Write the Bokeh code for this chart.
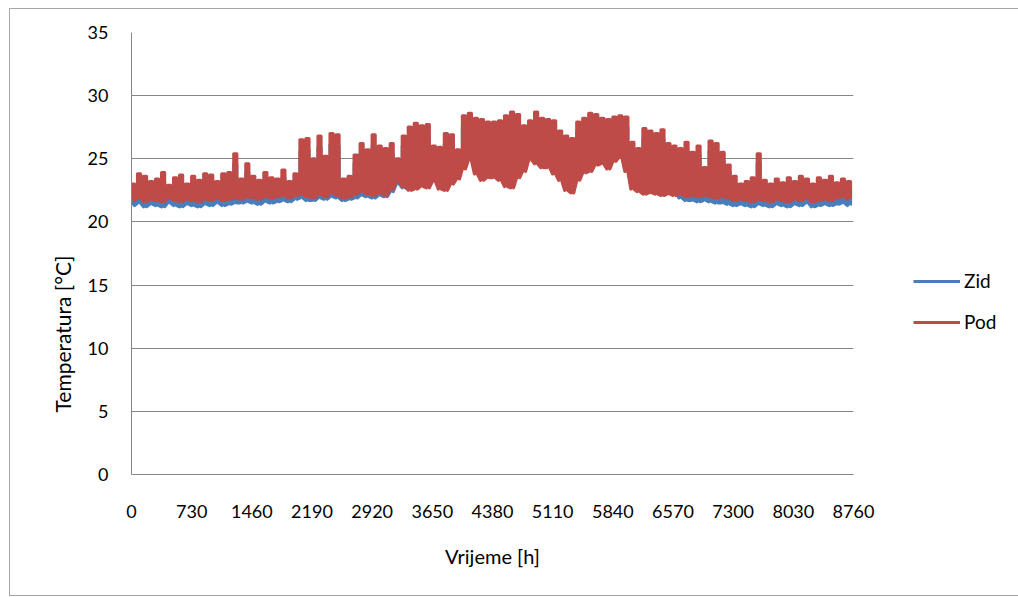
from bokeh.plotting import figure
from bokeh.models import FixedTicker, Legend, LegendItem, Range1d, Title
from bokeh.embed import file_html
from bokeh.resources import INLINE

# ---- data (envelope of hourly values, one low/high pair per 73 h) ----
hours = list(range(0, 8760, 73))

pod_low = [
    21.7, 21.9, 21.6, 21.8, 21.7, 21.6, 21.9, 21.7, 21.6, 21.8,
    21.7, 21.6, 21.8, 21.7, 21.9, 21.7, 21.8, 21.9, 21.8, 22.0,
    21.9, 21.8, 22.0, 21.9, 22.0, 22.1, 21.9, 22.1, 22.2, 22.0,
    21.9, 22.2, 22.0, 22.3, 22.1, 21.9, 22.0, 22.2, 22.4, 22.2,
    22.1, 22.3, 22.1, 22.6, 23.2, 22.8, 22.5, 22.6, 22.8, 22.7,
    23.2, 22.6, 22.5, 23.0, 23.4, 24.2, 24.9, 23.8, 23.3, 23.5,
    23.5, 23.3, 22.8, 22.7, 23.5, 24.0, 24.9, 24.6, 24.3, 24.3,
    23.8, 23.3, 22.5, 22.3, 23.3, 23.9, 24.0, 24.5, 24.6, 24.2,
    24.8, 25.1, 24.0, 22.6, 22.4, 22.2, 22.3, 22.2, 22.1, 22.2,
    22.1, 22.2, 22.0, 22.1, 22.0, 22.1, 22.0, 21.9, 22.0, 21.9,
    21.7, 21.8, 21.7, 21.6, 21.8, 21.7, 21.6, 21.8, 21.7, 21.6,
    21.8, 21.7, 21.9, 21.6, 21.7, 21.8, 21.7, 21.9, 22.0, 21.8,
]
pod_high = [
    23.0, 23.8, 23.6, 23.2, 23.4, 23.9, 22.9, 23.5, 23.7, 23.0,
    23.6, 23.3, 23.8, 23.7, 23.2, 23.8, 23.9, 25.4, 23.4, 24.6,
    23.6, 23.3, 23.9, 23.5, 23.4, 24.1, 23.2, 23.8, 26.5, 26.6,
    25.0, 26.8, 25.2, 27.0, 26.9, 23.4, 23.6, 25.3, 26.2, 25.7,
    26.9, 26.0, 25.8, 26.2, 25.0, 26.8, 27.5, 27.8, 27.6, 27.7,
    26.0, 25.9, 27.0, 26.9, 25.7, 28.4, 28.6, 28.2, 28.1, 27.9,
    27.9, 28.0, 28.4, 28.7, 28.5, 27.6, 28.0, 28.7, 28.2, 28.1,
    28.0, 27.2, 26.8, 26.6, 27.9, 28.2, 28.6, 28.5, 28.2, 28.1,
    28.3, 28.4, 28.3, 26.3, 25.8, 27.4, 27.2, 27.0, 27.3, 26.2,
    26.0, 25.8, 26.3, 25.5, 26.0, 24.3, 26.4, 26.2, 25.5, 24.5,
    23.6, 23.0, 23.2, 23.5, 25.4, 23.3, 23.0, 23.4, 23.1, 23.5,
    23.2, 23.6, 23.4, 23.0, 23.5, 23.3, 23.6, 23.1, 23.4, 23.2,
]
zid_low = [
    21.3, 21.5, 21.2, 21.4, 21.3, 21.2, 21.5, 21.3, 21.2, 21.4,
    21.3, 21.2, 21.4, 21.3, 21.5, 21.3, 21.4, 21.5, 21.5, 21.6,
    21.5, 21.4, 21.6, 21.5, 21.6, 21.7, 21.6, 21.8, 21.9, 21.7,
    21.7, 21.9, 21.8, 22.0, 21.9, 21.7, 21.8, 21.9, 22.1, 22.0,
    21.9, 22.1, 22.0, 22.4, 23.0, 22.7, 22.7, 22.8, 23.0, 22.9,
    23.4, 22.8, 22.7, 23.2, 23.6, 24.4, 25.1, 24.0, 23.5, 23.7,
    23.7, 23.5, 23.0, 22.9, 23.7, 24.2, 25.1, 24.8, 24.5, 24.5,
    24.0, 23.5, 22.7, 22.5, 23.5, 24.1, 24.2, 24.7, 24.8, 24.4,
    25.0, 25.3, 24.2, 22.8, 22.6, 22.4, 22.5, 22.4, 22.3, 22.4,
    22.3, 21.9, 21.7, 21.7, 21.6, 21.7, 21.6, 21.5, 21.5, 21.4,
    21.3, 21.4, 21.3, 21.2, 21.4, 21.3, 21.2, 21.4, 21.3, 21.2,
    21.4, 21.3, 21.5, 21.2, 21.3, 21.4, 21.3, 21.4, 21.5, 21.3,
]
zid_high = [
    22.6, 23.2, 23.0, 22.8, 22.9, 23.3, 22.5, 23.0, 23.1, 22.6,
    23.1, 22.9, 23.2, 23.1, 22.8, 23.2, 23.3, 24.6, 23.0, 23.9,
    23.1, 22.9, 23.3, 23.0, 23.0, 23.5, 22.8, 23.3, 25.6, 25.7,
    24.3, 25.9, 24.5, 26.1, 26.0, 23.0, 23.1, 24.6, 25.4, 25.0,
    26.0, 25.3, 25.1, 25.4, 24.4, 26.0, 26.6, 26.9, 26.7, 26.8,
    25.3, 25.2, 26.2, 26.1, 25.1, 27.5, 27.7, 27.4, 27.3, 27.1,
    27.1, 27.2, 27.6, 27.9, 27.7, 26.9, 27.2, 27.9, 27.4, 27.3,
    27.2, 26.5, 26.1, 25.9, 27.1, 27.4, 27.8, 27.7, 27.4, 27.3,
    27.5, 27.6, 27.5, 25.6, 25.1, 26.6, 26.4, 26.2, 26.5, 25.5,
    25.3, 25.1, 25.6, 24.8, 25.3, 23.7, 25.6, 25.4, 24.8, 23.9,
    23.0, 22.5, 22.7, 22.9, 24.6, 22.8, 22.5, 22.9, 22.6, 23.0,
    22.7, 23.0, 22.9, 22.5, 22.9, 22.8, 23.0, 22.6, 22.9, 22.7,
]

x_ticks = [0, 730, 1460, 2190, 2920, 3650, 4380, 5110, 5840, 6570, 7300, 8030, 8760]
x_tick_labels = ["0", "730", "1460", "2190", "2920", "3650", "4380", "5110",
                 "5840", "6570", "7300", "8030", "8760"]
y_ticks = [0, 5, 10, 15, 20, 25, 30, 35]

series_names = ["Zid", "Pod"]
series_colors = ["#4a7ebb", "#be4b48"]
x_title = "Vrijeme [h]"
y_title = "Temperatura [°C]"


def dense_path(lows, highs):
    # hourly trace drawn as up/down strokes between the read low and high envelope
    xs, ys = [], []
    for h, lo, hi in zip(hours, lows, highs):
        xs += [h, h, h + 36.5, h + 36.5]
        ys += [lo, hi, hi, lo]
    return xs, ys


FONT = "Lato"
GRID = "#868686"

p = figure(output_backend="svg", toolbar_location=None,
           frame_width=722, frame_height=442,
           min_border_left=121, min_border_right=163,
           min_border_top=23, min_border_bottom=121,
           x_range=Range1d(0, 8760), y_range=Range1d(0, 35))
p.styles = {"margin-left": "9px", "margin-top": "8px", "border": "1px solid #a6a6a6"}
p.outline_line_color = None
p.background_fill_color = "white"
p.border_fill_color = "white"

# axes
p.xaxis.ticker = FixedTicker(ticks=x_ticks)
p.xaxis.major_label_overrides = {t: l for t, l in zip(x_ticks, x_tick_labels)}
p.yaxis.ticker = FixedTicker(ticks=y_ticks)
for ax in (p.xaxis[0], p.yaxis[0]):
    ax.axis_line_color = GRID
    ax.axis_line_width = 1
    ax.major_tick_line_color = None
    ax.minor_tick_line_color = None
    ax.major_tick_out = 0
    ax.major_tick_in = 0
    ax.major_label_text_font = FONT
    ax.major_label_text_font_size = "18px"
    ax.major_label_text_color = "#000000"
p.yaxis.major_label_standoff = 23
p.xaxis.major_label_standoff = 30
p.xaxis.axis_label = x_title
p.xaxis.axis_label_text_font = FONT
p.xaxis.axis_label_text_font_size = "20px"
p.xaxis.axis_label_text_font_style = "normal"
p.xaxis.axis_label_text_color = "#000000"
p.xaxis.axis_label_standoff = 23

p.xgrid.grid_line_color = None
p.ygrid.ticker = FixedTicker(ticks=y_ticks)
p.ygrid.grid_line_color = GRID
p.ygrid.grid_line_width = 1

# y axis title, set a bit below the frame centre as in the reference
p.add_layout(Title(text=y_title, align="left", offset=62, standoff=20,
                   text_font=FONT, text_font_size="21px", text_font_style="normal",
                   text_color="#000000"), "left")

renderers = []
for name, color, lows, highs in [(series_names[0], series_colors[0], zid_low, zid_high),
                                 (series_names[1], series_colors[1], pod_low, pod_high)]:
    xs, ys = dense_path(lows, highs)
    r = p.line(xs, ys, line_color=color, line_width=3.2, line_join="round")
    renderers.append(r)

legend = Legend(items=[LegendItem(label=n, renderers=[r]) for n, r in zip(series_names, renderers)],
                location=(60, 141), padding=0, margin=0, spacing=18,
                glyph_width=47, glyph_height=22, label_height=22, label_standoff=4,
                label_text_font=FONT, label_text_font_size="19px", label_text_color="#000000",
                border_line_color=None, background_fill_alpha=0)
p.add_layout(legend, "right")

open("out.html", "w").write(file_html(p, INLINE))
